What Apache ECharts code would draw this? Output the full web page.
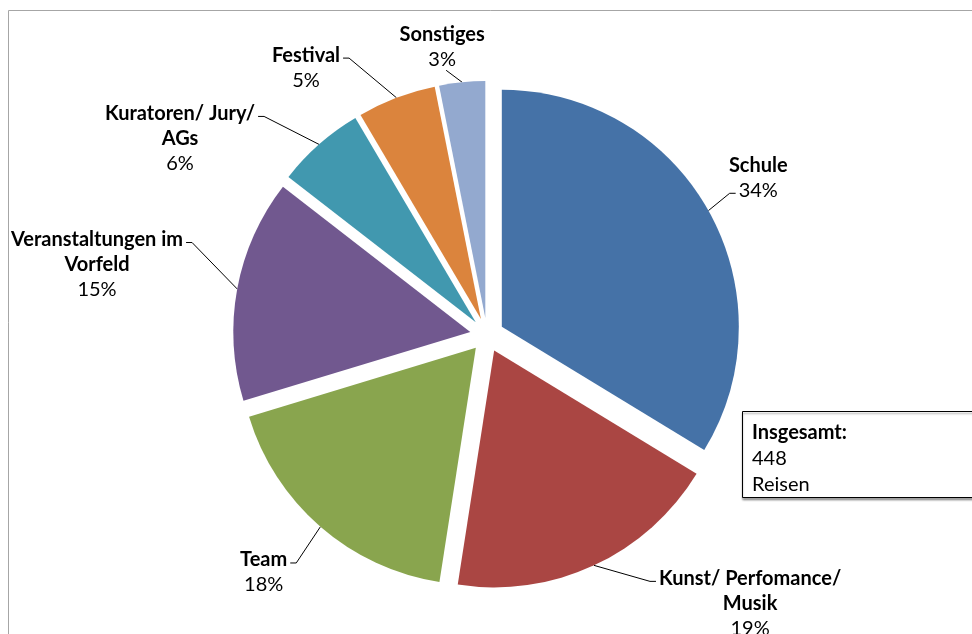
<!DOCTYPE html>
<html>
<head>
<meta charset="utf-8">
<script src="https://cdn.jsdelivr.net/npm/echarts@6/dist/echarts.min.js"></script>
<style>
  html, body { margin: 0; padding: 0; background: #fff; }
  #main { width: 972px; height: 634px; }
</style>
</head>
<body>
<div id="main"></div>
<script>
// Reisen je Anlass, im Uhrzeigersinn ab 12 Uhr (aus den Segmentwinkeln geschätzt)
var categories = ['Schule', 'Kunst/ Perfomance/\nMusik', 'Team', 'Veranstaltungen im\nVorfeld', 'Kuratoren/ Jury/\nAGs', 'Festival', 'Sonstiges'];
var trips = [151, 84, 80, 68, 27, 24, 14];
var total = trips.reduce(function (a, b) { return a + b; }, 0);

// Darstellung
var colors = ['#4572A7', '#AA4643', '#89A54E', '#71588F', '#4198AF', '#DB843D', '#93A9CF'];
// Führungslinien [radial, waagerecht]
var leaderLen = [[20, 0], [0, 62], [46, 0], [52, 0], [0, 61], [29, 43], [10, 16]];
// senkrechte Verschiebung der Etiketten
var labelShift = [-23, 38, 11, -15, -6, -3, 0];
// Seite des Etiketts, Zeile an der die Linie endet
var labelSide = ['r', 'r', 'l', 'l', 'l', 'l', 't'];
var attachRow = [1, 0, 0, 0, 0, 0, 0];

var FONT = 20, LH = 25, GAP = 3;

var measureCtx = document.createElement('canvas').getContext('2d');
function textWidth(s, bold) {
  measureCtx.font = (bold ? 'bold ' : '') + FONT + 'px Lato';
  return measureCtx.measureText(s).width;
}
function pct(i) {
  return Math.round(trips[i] / total * 100) + '%';
}

var chart = echarts.init(document.getElementById('main'), null, { renderer: 'canvas' });

var pieData = categories.map(function (name, i) {
  var s = labelShift[i];
  return {
    name: name,
    value: trips[i],
    selected: true,
    itemStyle: { color: colors[i] },
    label: { padding: [Math.max(0, 2 * s), 0, Math.max(0, -2 * s), 0] },
    labelLine: { length: leaderLen[i][0], length2: leaderLen[i][1] }
  };
});

var option = {
  backgroundColor: '#fff',
  animation: false,
  textStyle: { fontFamily: 'Lato, sans-serif' },
  graphic: [
    {
      // Rahmen des Diagrammbereichs
      type: 'rect',
      shape: { x: 8.5, y: 10.5, width: 1000, height: 700 },
      style: { fill: 'none', stroke: '#a6a6a6', lineWidth: 1 },
      silent: true
    },
    {
      type: 'group',
      left: 742,
      top: 411,
      children: [
        {
          type: 'rect',
          shape: { x: 0.5, y: 0.5, width: 260, height: 86 },
          style: { fill: '#fff', stroke: '#000', lineWidth: 1, shadowColor: 'rgba(0,0,0,0.35)', shadowOffsetY: 2, shadowBlur: 2 }
        },
        {
          type: 'text',
          x: 10, y: 9,
          style: {
            text: '{b|Insgesamt:}\n{n|' + total + '}\n{n|Reisen}',
            rich: {
              b: { fontFamily: 'Lato', fontWeight: 'bold', fontSize: FONT, lineHeight: 26, fill: '#000' },
              n: { fontFamily: 'Lato', fontSize: FONT, lineHeight: 26, fill: '#000' }
            }
          }
        }
      ]
    }
  ],
  series: [{
    type: 'pie',
    center: [487, 335],
    radius: 237,
    startAngle: 90,
    clockwise: true,
    percentPrecision: 0,
    selectedMode: 'multiple',
    selectedOffset: 17,
    avoidLabelOverlap: false,
    select: { itemStyle: { borderWidth: 0 } },
    emphasis: { scale: false },
    label: {
      show: true,
      position: 'outside',
      distanceToLabelLine: GAP,
      formatter: '{b|{b}}\n{p|{d}%}',
      rich: {
        b: { fontFamily: 'Lato', fontWeight: 'bold', fontSize: FONT, lineHeight: LH, color: '#000', align: 'center' },
        p: { fontFamily: 'Lato', fontSize: FONT, lineHeight: LH, color: '#000', align: 'center' }
      }
    },
    labelLine: {
      show: true,
      lineStyle: { color: '#000', width: 1 }
    },
    labelLayout: function (params) {
      var i = params.dataIndex;
      var pts = params.labelLinePoints;
      var p0 = pts[0], p2 = pts[2];
      var side = labelSide[i];

      if (side === 't') {
        var end = [p2[0] - GAP + 4, p2[1] - 2];
        return { align: 'center', verticalAlign: 'bottom', labelLinePoints: [p0, end, end] };
      }

      // Zeilen des Etiketts
      var rows = categories[i].split('\n').map(function (s) { return { w: textWidth(s, true) }; });
      rows.push({ w: textWidth(pct(i), false) });
      var W = Math.max.apply(null, rows.map(function (r) { return r.w; }));
      var H = rows.length * LH;

      var ax = side === 'r' ? p2[0] + GAP : p2[0] - GAP;
      var top = p2[1] - H / 2 + labelShift[i];
      var left = side === 'r' ? ax : ax - W;
      var row = rows[attachRow[i]];
      var rowLeft = left + (W - row.w) / 2;
      var cy = top + attachRow[i] * LH + LH / 2 + 3;
      var ex, bx;
      if (side === 'r') { ex = rowLeft - 3; bx = ex - 6; }
      else { ex = rowLeft + row.w + 3; bx = ex + 6; }
      return {
        verticalAlign: 'middle',
        labelLinePoints: [p0, [bx, cy], [ex, cy]]
      };
    },
    data: pieData
  }]
};

chart.setOption(option);
</script>
</body>
</html>
